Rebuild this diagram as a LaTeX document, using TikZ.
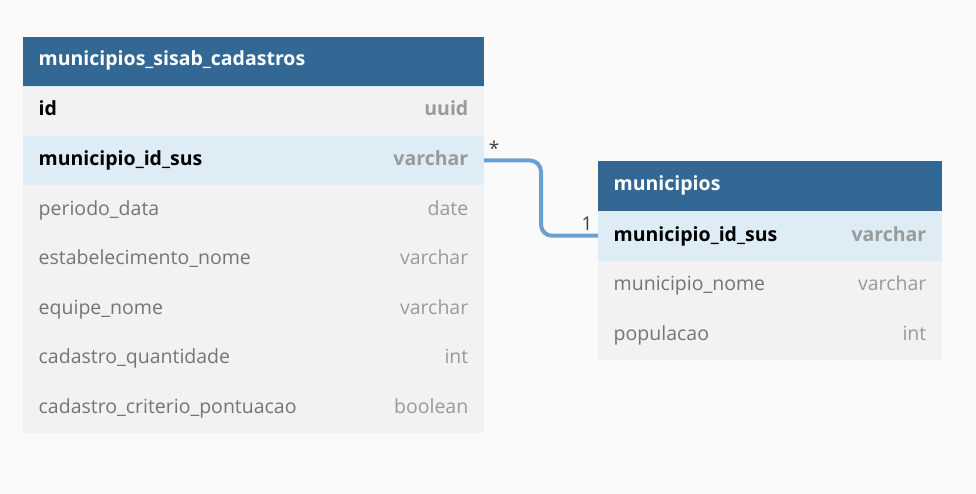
\documentclass[tikz,border=0pt]{standalone}
\usepackage{fontspec}
\setmainfont{Open Sans}
\definecolor{bgc}{HTML}{FAFAFA}
\definecolor{hdr}{HTML}{336894}
\definecolor{rowc}{HTML}{F2F2F2}
\definecolor{hil}{HTML}{DEEDF5}
\definecolor{conc}{HTML}{6A9FD2}
\definecolor{typec}{HTML}{9A9A9A}
\definecolor{fldc}{HTML}{757575}
\begin{document}
\begin{tikzpicture}[x=1pt,y=-1pt,
  cell/.style={inner sep=0pt,outer sep=0pt,minimum height=49.5pt},
  lcell/.style={cell,minimum width=461pt},
  rcell/.style={cell,minimum width=343.5pt},
  hdrcell/.style={fill=hdr},
  plain/.style={fill=rowc},
  hl/.style={fill=hil},
  txt/.style={inner sep=0pt,font=\fontsize{19.5}{23}\selectfont},
  title/.style={txt,anchor=base west,text=white,font=\fontsize{19.5}{23}\selectfont\bfseries},
  keyf/.style={txt,anchor=base west,text=black,font=\fontsize{19.5}{23}\selectfont\bfseries},
  keyt/.style={txt,anchor=base east,text=typec,font=\fontsize{19.5}{23}\selectfont\bfseries},
  fld/.style={txt,anchor=base west,text=fldc},
  typ/.style={txt,anchor=base east,text=typec},
  conn/.style={draw=conc,line width=4pt,rounded corners=11pt},
  card/.style={inner sep=0pt,font=\fontsize{19}{22}\selectfont,text=black!75}
]
\useasboundingbox[fill=bgc] (0,0) rectangle (976,494);
% left table
\node[lcell,hdrcell] (lh) at (253.5,61.5) {};
\node[lcell,plain] (l1) at (253.5,111) {};
\node[lcell,hl] (l2) at (253.5,160.5) {};
\node[lcell,plain] (l3) at (253.5,210) {};
\node[lcell,plain] (l4) at (253.5,259.5) {};
\node[lcell,plain] (l5) at (253.5,309) {};
\node[lcell,plain] (l6) at (253.5,358.5) {};
\node[lcell,plain] (l7) at (253.5,408) {};
\draw[white!85!hdr,line width=0.6pt] (l1.north west) -- (l1.north east);
\node[title] (lht) at (38.5,66) {municipios\_sisab\_cadastros};
\node[keyf] (l1f) at (38.5,116) {id};
\node[keyt] (l1t) at (468.5,116) {uuid};
\node[keyf] (l2f) at (38.5,165.5) {municipio\_id\_sus};
\node[keyt] (l2t) at (468.5,165.5) {varchar};
\node[fld] (l3f) at (38.5,215) {periodo\_data};
\node[typ] (l3t) at (468.5,215) {date};
\node[fld] (l4f) at (38.5,264.5) {estabelecimento\_nome};
\node[typ] (l4t) at (468.5,264.5) {varchar};
\node[fld] (l5f) at (38.5,314) {equipe\_nome};
\node[typ] (l5t) at (468.5,314) {varchar};
\node[fld] (l6f) at (38.5,363.5) {cadastro\_quantidade};
\node[typ] (l6t) at (468.5,363.5) {int};
\node[fld] (l7f) at (38.5,413) {cadastro\_criterio\_pontuacao};
\node[typ] (l7t) at (468.5,413) {boolean};
% right table
\node[rcell,hdrcell] (rh) at (769.75,186.25) {};
\node[rcell,hl] (r1) at (769.75,235.75) {};
\node[rcell,plain] (r2) at (769.75,285.25) {};
\node[rcell,plain] (r3) at (769.75,334.75) {};
\draw[white!85!hdr,line width=0.6pt] (r1.north west) -- (r1.north east);
\node[title] (rht) at (613.5,191) {municipios};
\node[keyf] (r1f) at (613.5,241) {municipio\_id\_sus};
\node[keyt] (r1t) at (926.5,241) {varchar};
\node[fld] (r2f) at (613.5,290.5) {municipio\_nome};
\node[typ] (r2t) at (926.5,290.5) {varchar};
\node[fld] (r3f) at (613.5,340) {populacao};
\node[typ] (r3t) at (926.5,340) {int};
% connector
\coordinate (c1) at (541,160.5);
\coordinate (c2) at (541,235.75);
\draw[conn] (l2.east) -- (c1) -- (c2) -- (r1.west);
\node[card] (cs) at (494,148) {*};
\node[card] (c1l) at (587,224) {1};
\end{tikzpicture}
\end{document}
